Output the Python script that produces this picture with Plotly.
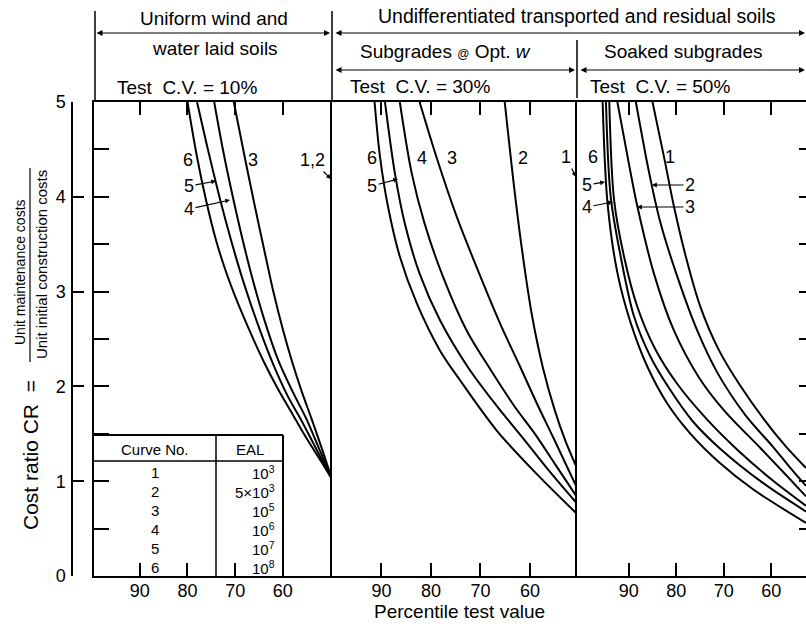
import plotly.graph_objects as go

W, H = 806, 624
FONT = "Liberation Sans, Arial, sans-serif"

# ---------------- data ----------------
x_tick_vals = [90, 80, 70, 60]
x_tick_text = ["90", "80", "70", "60"]
y_tick_vals = [0, 1, 2, 3, 4, 5]
y_tick_text = ["0", "1", "2", "3", "4", "5"]
y_minor_vals = [0.5, 1.0, 1.5, 2.0, 2.5, 3.0, 3.5, 4.0, 4.5]

curve_numbers = ["1", "2", "3", "4", "5", "6"]
eal_labels = ["10<sup>3</sup>", "5\u00d710<sup>3</sup>", "10<sup>5</sup>",
              "10<sup>6</sup>", "10<sup>7</sup>", "10<sup>8</sup>"]

# Panel 1 : uniform wind and water laid soils, Test C.V. = 10%
p1_c1_x = [49.7, 49.7]
p1_c1_y = [5.0, 1.02]
p1_c2_x = [49.7, 49.7]
p1_c2_y = [5.0, 1.02]
p1_c3_x = [70.3, 68.0, 66.0, 64.0, 62.0, 60.0, 58.0, 56.0, 54.0, 52.0, 49.7]
p1_c3_y = [5.0, 4.42, 3.93, 3.46, 3.0, 2.6, 2.25, 1.94, 1.66, 1.37, 1.02]
p1_c4_x = [74.4, 72.5, 70.5, 68.5, 66.5, 64.0, 61.0, 58.0, 55.0, 52.3, 49.7]
p1_c4_y = [5.0, 4.48, 4.0, 3.56, 3.16, 2.72, 2.28, 1.95, 1.65, 1.33, 1.02]
p1_c5_x = [78.0, 76.0, 74.0, 72.0, 70.0, 68.0, 65.0, 62.0, 59.0, 56.0, 53.0, 49.7]
p1_c5_y = [5.0, 4.56, 4.14, 3.75, 3.39, 3.06, 2.62, 2.23, 1.9, 1.63, 1.34, 1.02]
p1_c6_x = [80.0, 78.0, 76.0, 74.0, 72.0, 70.0, 67.0, 64.0, 61.0, 58.0, 55.0, 52.0, 49.7]
p1_c6_y = [5.0, 4.42, 3.94, 3.54, 3.22, 2.95, 2.59, 2.26, 1.97, 1.71, 1.45, 1.21, 1.02]

# Panel 2 : subgrades at optimum w, Test C.V. = 30%
p2_c1_x = [50.6, 50.6]
p2_c1_y = [5.0, 1.15]
p2_c2_x = [65.1, 63.2, 61.5, 59.6, 57.4, 55.0, 52.8, 50.6]
p2_c2_y = [5.0, 4.1, 3.4, 2.75, 2.2, 1.75, 1.42, 1.15]
p2_c3_x = [82.3, 78.9, 74.8, 70.8, 66.1, 62.1, 58.6, 55.2, 50.6]
p2_c3_y = [5.0, 4.42, 3.79, 3.26, 2.67, 2.22, 1.82, 1.45, 0.94]
p2_c4_x = [86.3, 83.9, 81.3, 77.6, 72.8, 68.5, 63.0, 59.0, 54.8, 50.6]
p2_c4_y = [5.0, 4.25, 3.72, 3.16, 2.59, 2.22, 1.78, 1.5, 1.17, 0.84]
p2_c5_x = [89.3, 87.3, 85.3, 82.3, 78.2, 72.5, 66.8, 61.5, 56.0, 50.6]
p2_c5_y = [5.0, 4.25, 3.72, 3.19, 2.70, 2.2, 1.8, 1.46, 1.1, 0.77]
p2_c6_x = [91.4, 90.3, 88.7, 86.3, 82.9, 78.2, 74.2, 66.8, 58.7, 50.6]
p2_c6_y = [5.0, 4.42, 3.90, 3.37, 2.88, 2.38, 2.07, 1.54, 1.08, 0.66]

# Panel 3 : soaked subgrades, Test C.V. = 50%
p3_c1_x = [85.0, 82.5, 80.5, 78.0, 75.0, 71.0, 66.7, 61.5, 57.0, 52.7]
p3_c1_y = [5.0, 4.4, 3.9, 3.37, 2.85, 2.38, 2.02, 1.65, 1.37, 1.14]
p3_c2_x = [88.5, 85.7, 83.3, 79.8, 75.6, 71.3, 65.5, 59.6, 56.0, 52.7]
p3_c2_y = [5.0, 4.25, 3.72, 3.16, 2.59, 2.14, 1.7, 1.36, 1.14, 0.95]
p3_c3_x = [92.4, 89.6, 88.2, 84.7, 80.5, 75.3, 70.0, 62.3, 57.0, 52.7]
p3_c3_y = [5.0, 4.25, 3.9, 3.19, 2.59, 2.1, 1.75, 1.35, 1.07, 0.84]
p3_c4_x = [94.1, 93.1, 91.0, 88.2, 84.5, 79.7, 73.5, 67.1, 60.0, 52.7]
p3_c4_y = [5.0, 3.97, 3.37, 2.84, 2.4, 2.02, 1.65, 1.33, 1.02, 0.74]
p3_c5_x = [94.8, 93.8, 91.7, 88.9, 85.4, 81.5, 76.5, 70.7, 62.0, 52.7]
p3_c5_y = [5.0, 4.0, 3.37, 2.74, 2.31, 1.98, 1.63, 1.34, 0.99, 0.68]
p3_c6_x = [95.5, 94.5, 92.4, 89.6, 86.1, 81.9, 77.0, 71.0, 64.0, 52.7]
p3_c6_y = [5.0, 3.95, 3.2, 2.67, 2.21, 1.82, 1.5, 1.2, 0.92, 0.56]

panels = [
    ("x", "y", [(p1_c1_x, p1_c1_y), (p1_c2_x, p1_c2_y), (p1_c3_x, p1_c3_y),
                (p1_c4_x, p1_c4_y), (p1_c5_x, p1_c5_y), (p1_c6_x, p1_c6_y)]),
    ("x2", "y2", [(p2_c1_x, p2_c1_y), (p2_c2_x, p2_c2_y), (p2_c3_x, p2_c3_y),
                  (p2_c4_x, p2_c4_y), (p2_c5_x, p2_c5_y), (p2_c6_x, p2_c6_y)]),
    ("x3", "y3", [(p3_c1_x, p3_c1_y), (p3_c2_x, p3_c2_y), (p3_c3_x, p3_c3_y),
                  (p3_c4_x, p3_c4_y), (p3_c5_x, p3_c5_y), (p3_c6_x, p3_c6_y)]),
]


def px(x):
    return x / W


def py(y):
    return 1 - y / H


fig = go.Figure()
for xa, ya, curves in panels:
    for cx, cy in curves:
        fig.add_trace(go.Scatter(x=cx, y=cy, xaxis=xa, yaxis=ya, mode="lines",
                                 line=dict(color="black", width=2, shape="spline", smoothing=0.9),
                                 hoverinfo="skip", showlegend=False))

YDOM = [py(576), py(102)]
tickfont = dict(family=FONT, size=18, color="black")


def xaxis_def(dom, rng, anchor):
    return dict(domain=dom, range=rng, anchor=anchor, tickvals=x_tick_vals, ticktext=x_tick_text,
                ticks="inside", ticklen=13, tickwidth=1.5, tickcolor="black",
                showline=True, linewidth=2, linecolor="black", mirror="ticks",
                showgrid=False, zeroline=False, tickfont=tickfont, ticklabelstandoff=-3,
                automargin=False, fixedrange=True)


def yaxis_def(anchor, with_ticks):
    d = dict(domain=YDOM, range=[0, 5], anchor=anchor, showline=True, linewidth=2,
             linecolor="black", showgrid=False, zeroline=False, showticklabels=False,
             automargin=False, fixedrange=True)
    if with_ticks:
        d.update(tickvals=y_minor_vals, ticks="inside", ticklen=15, tickwidth=1.5, tickcolor="black")
    else:
        d.update(ticks="")
    return d


layout = dict(
    width=W, height=H, margin=dict(l=0, r=0, t=0, b=0, pad=0, autoexpand=False),
    paper_bgcolor="white", plot_bgcolor="white", showlegend=False,
    xaxis=xaxis_def([px(94), px(332)], [99.6, 49.7], "y"),
    xaxis2=xaxis_def([px(332), px(576.5)], [100.0, 50.6], "y2"),
    xaxis3=xaxis_def([px(576.5), 1.0], [101.0, 52.7], "y3"),
    yaxis=yaxis_def("x", True),
    yaxis2=yaxis_def("x2", False),
    yaxis3=yaxis_def("x3", False),
    yaxis4=dict(domain=YDOM, range=[0, 5], overlaying="y", anchor="free", position=px(72),
                side="left", tickvals=y_tick_vals, ticktext=y_tick_text, ticks="inside",
                ticklen=11, tickwidth=1.5, tickcolor="black", showline=True, linewidth=1.5,
                linecolor="black", showgrid=False, zeroline=False, tickfont=tickfont,
                ticklabelstandoff=2, automargin=False, fixedrange=True),
    yaxis5=dict(domain=YDOM, range=[0, 5], overlaying="y3", anchor="x3", side="right",
                tickvals=y_minor_vals, ticks="inside", ticklen=7, tickwidth=1.5,
                tickcolor="black", showline=False, showgrid=False, zeroline=False,
                showticklabels=False, automargin=False, fixedrange=True),
)
fig.update_layout(**layout)
# placeholder traces so the extra axes are drawn
fig.add_trace(go.Scatter(x=[None], y=[None], xaxis="x", yaxis="y4", showlegend=False))
fig.add_trace(go.Scatter(x=[None], y=[None], xaxis="x3", yaxis="y5", showlegend=False))

ann = []
shapes = []
NB = "\u00a0"


def text(t, x, y, size=19, xanchor="center", textangle=0):
    ann.append(dict(text=t, x=px(x), y=py(y), xref="paper", yref="paper", showarrow=False,
                    xanchor=xanchor, yanchor="middle", textangle=textangle,
                    font=dict(family=FONT, size=size, color="black")))


def line(x0, y0, x1, y1, w=1.5):
    shapes.append(dict(type="line", xref="paper", yref="paper", x0=px(x0), y0=py(y0),
                       x1=px(x1), y1=py(y1), line=dict(color="black", width=w)))


def hdr_arrow(x0, x1, y):
    ann.append(dict(text="", x=px(x1), y=py(y), xref="paper", yref="paper", showarrow=True,
                    ax=-(x1 - x0), ay=0, axref="pixel", ayref="pixel", arrowside="end+start",
                    arrowhead=2, arrowsize=1.0, arrowwidth=1.2, arrowcolor="black"))


def label_arrow(t, lx, ly, tx, ty):
    ann.append(dict(text=t, x=px(tx), y=py(ty), xref="paper", yref="paper", showarrow=True,
                    ax=lx - tx, ay=ly - ty, arrowhead=2, arrowsize=0.8, arrowwidth=1.2,
                    arrowcolor="black", standoff=0,
                    font=dict(family=FONT, size=18, color="black")))


# header texts
text("Uniform wind and", 214, 18)
text("water laid soils", 215, 49)
text("Test" + NB + NB + "C.V. = 10%", 115, 88, xanchor="left")
text("Undifferentiated transported and residual soils", 376, 16, size=19.5, xanchor="left")
text("Subgrades <span style='font-size:12px'>@</span> Opt. <i>w</i>", 358, 51, xanchor="left")
text("Soaked subgrades", 602, 51, xanchor="left")
text("Test" + NB + NB + "C.V. = 30%", 348, 87, xanchor="left")
text("Test" + NB + NB + "C.V. = 50%", 588, 87, xanchor="left")

# header lines and arrows
line(95, 11, 95, 102)
line(332, 11, 332, 102)
line(577, 40, 577, 98)
hdr_arrow(95, 330, 33)
hdr_arrow(334, 805, 33)
hdr_arrow(334, 575, 70)
hdr_arrow(579, 805, 70)

# axis titles
text("Percentile test value", 460, 611)
text("Cost" + NB + "ratio" + NB + "CR" + NB + NB + "=", 30, 455, size=21, textangle=-90)
text("Unit maintenance costs", 20, 272, size=14, textangle=-90)
text("Unit initial construction costs", 41, 265, size=15, textangle=-90)
line(30, 168, 30, 362, 1.2)

# curve labels
for t, lx, ly in [("6", 188, 160), ("3", 253, 160),
                  ("6", 372, 158), ("4", 422, 158), ("3", 452, 158), ("2", 523, 158),
                  ("6", 593, 157), ("1", 670, 157)]:
    text(t, lx, ly, size=18)
for t, lx, ly, tx, ty in [("1,2", 312, 160, 331, 179), ("5", 189, 186, 216, 181),
                          ("4", 189, 209, 230, 200), ("5", 372, 186, 398, 179),
                          ("1", 566, 157, 576, 177), ("5", 587, 185, 605, 182),
                          ("4", 587, 207, 613, 202), ("2", 690, 185, 652, 185),
                          ("3", 690, 207, 637, 207)]:
    label_arrow(t, lx, ly, tx, ty)

# table
line(94, 435, 283, 435, 2)
line(94, 461, 283, 461, 1.5)
line(216, 435, 216, 577, 1.5)
line(283, 435, 283, 577, 2)
text("Curve No.", 155, 449, size=15)
text("EAL", 250, 449, size=15)
for i, (cn, e) in enumerate(zip(curve_numbers, eal_labels)):
    yy = 472 + 19 * i
    text(cn, 155, yy, size=15)
    text(e, 277, yy, size=15, xanchor="right")

fig.update_layout(annotations=ann, shapes=shapes)
fig.write_html("out.html", config={"displayModeBar": False})
